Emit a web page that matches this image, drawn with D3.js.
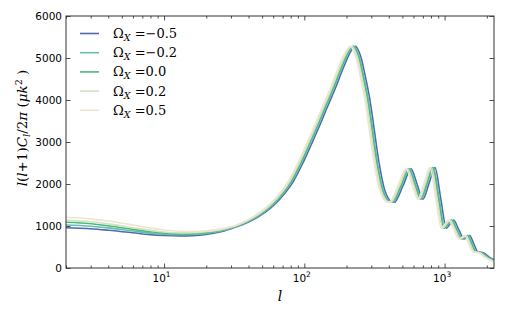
<!DOCTYPE html>
<html><head><meta charset="utf-8">
<script src="https://cdn.jsdelivr.net/npm/d3@7"></script>
<style>body{margin:0;background:#fff}svg{display:block}</style>
</head><body><svg id="c" width="506" height="316"></svg>
<script>
// ---- data ----
const omegaLabels = ["\u22120.5", "\u22120.2", "0.0", "0.2", "0.5"];
const seriesColors = ["#5069b0", "#66c0b0", "#4cb97c", "#cfe3bf", "#efe4cf"];

const lowEll = [2, 3, 4, 6, 8, 10, 13, 16, 20, 25, 30];
const lowDlM05 = [960, 935, 900, 840, 795, 775, 765, 772, 800, 855, 935];
const lowDlM02 = [1024, 995, 955, 880, 830, 802, 790, 797, 825, 876, 947];
const lowDl00  = [1088, 1055, 1005, 920, 862, 830, 812, 818, 845, 893, 957];
const lowDlP02 = [1135, 1100, 1050, 960, 895, 858, 836, 838, 862, 908, 968];
const lowDlP05 = [1207, 1170, 1120, 1025, 950, 905, 875, 867, 883, 925, 982];

const highDl = [1036, 1124, 1321, 1540, 1786, 2060, 2476, 2952, 3381, 3833,
  4310, 4726, 5095, 5226, 5279, 5155, 5000, 4619, 4048, 3452,
  2833, 2429, 2131, 1869, 1667, 1583, 1564, 1960, 2360, 2000,
  1640, 2015, 2390, 1670, 950, 1045, 1140, 915, 690, 730,
  775, 575, 380, 370, 260, 170, 120];

const highEllM05 = [36.5, 41.7, 52.1, 62.5, 72.9, 83.4, 96.9, 112.5, 128.2, 145.9,
  167.8, 187.6, 209.4, 220.9, 231.3, 244.9, 254.2, 269.9, 291.8, 310.5,
  329.3, 343.9, 357.4, 373.0, 394.9, 413.7, 437.6, 505.4, 576.2, 635.6,
  701.3, 774.2, 854.4, 936.8, 1029.5, 1091, 1158.7, 1261.9, 1376.5, 1439,
  1506.7, 1614.1, 1732.8, 1865.2, 2084, 2344.5, 2552.9];
const highEllM02 = [35.6, 40.7, 50.9, 61, 71.2, 81.4, 94.6, 109.8, 125.1, 142.4,
  163.7, 183.1, 204.4, 215.6, 225.8, 239, 248.1, 263.4, 284.8, 303.1,
  321.4, 335.6, 348.8, 364.1, 385.4, 403.7, 427.1, 493.2, 562.4, 620.4,
  684.4, 755.6, 833.9, 914.3, 1004.8, 1064.8, 1130.9, 1231.6, 1343.5, 1404.5,
  1470.6, 1575.3, 1691.3, 1820.4, 2034, 2288.3, 2491.7];
const highEll00 = [35, 40, 50, 60, 70, 80, 93, 108, 123, 140,
  161, 180, 201, 212, 222, 235, 244, 259, 280, 298,
  316, 330, 343, 358, 379, 397, 420, 485, 553, 610,
  673, 743, 820, 899, 988, 1047, 1112, 1211, 1321, 1381,
  1446, 1549, 1663, 1790, 2000, 2250, 2450];
const highEllP02 = [34.4, 39.3, 49.2, 59, 68.8, 78.6, 91.4, 106.2, 120.9, 137.6,
  158.3, 176.9, 197.6, 208.4, 218.2, 231, 239.9, 254.6, 275.2, 292.9,
  310.6, 324.4, 337.2, 351.9, 372.6, 390.3, 412.9, 476.8, 543.6, 599.6,
  661.6, 730.4, 806.1, 883.7, 971.2, 1029.2, 1093.1, 1190.4, 1298.5, 1357.5,
  1421.4, 1522.7, 1634.7, 1759.6, 1966, 2211.8, 2408.4];
const highEllP05 = [33.6, 38.4, 48, 57.6, 67.2, 76.8, 89.3, 103.7, 118.1, 134.4,
  154.6, 172.8, 193, 203.5, 213.1, 225.6, 234.2, 248.6, 268.8, 286.1,
  303.4, 316.8, 329.3, 343.7, 363.8, 381.1, 403.2, 465.6, 530.9, 585.6,
  646.1, 713.3, 787.2, 863, 948.5, 1005.1, 1067.5, 1162.6, 1268.2, 1325.8,
  1388.2, 1487, 1596.5, 1718.4, 1920, 2160, 2352];

const yTicks = [0, 1000, 2000, 3000, 4000, 5000, 6000];
const xMajor = [10, 100, 1000];
const xMajorExp = ["1", "2", "3"];

// ---- build ----
const lowSets = [lowDlM05, lowDlM02, lowDl00, lowDlP02, lowDlP05];
const highEllSets = [highEllM05, highEllM02, highEll00, highEllP02, highEllP05];
const series = lowSets.map((low, i) => {
  const pts = lowEll.map((l, j) => [l, low[j]]);
  highEllSets[i].forEach((l, j) => pts.push([l, highDl[j]]));
  return {label: omegaLabels[i], color: seriesColors[i], pts};
});

const L = 66, R = 494, T = 16, B = 268;
const x = d3.scaleLog().domain([2, 2250]).range([L, R]);
const y = d3.scaleLinear().domain([0, 6000]).range([B, T]);
const svg = d3.select("#c");

svg.append("defs").append("clipPath").attr("id", "clip")
  .append("rect").attr("x", L).attr("y", T).attr("width", R - L).attr("height", B - T);

const line = d3.line().x(d => x(d[0])).y(d => y(d[1])).curve(d3.curveMonotoneX);
const g = svg.append("g").attr("clip-path", "url(#clip)");
series.forEach(s => {
  g.append("path").attr("d", line(s.pts)).attr("fill", "none")
    .attr("stroke", s.color).attr("stroke-width", 1.6);
});

// axes
const minor = [];
[1, 10, 100, 1000].forEach(d => { for (let k = 2; k <= 9; k++) { const v = d * k; if (v >= 2 && v <= 2250) minor.push(v); } });
const axB = d3.axisBottom(x).tickValues(xMajor).tickSizeInner(-4.5).tickSizeOuter(0).tickFormat("");
const axT = d3.axisTop(x).tickValues(xMajor).tickSizeInner(-4.5).tickSizeOuter(0).tickFormat("");
const axBm = d3.axisBottom(x).tickValues(minor).tickSizeInner(-2.5).tickSizeOuter(0).tickFormat("");
const axTm = d3.axisTop(x).tickValues(minor).tickSizeInner(-2.5).tickSizeOuter(0).tickFormat("");
const axL = d3.axisLeft(y).tickValues(yTicks).tickSizeInner(-4.5).tickSizeOuter(0).tickFormat("");
const axR = d3.axisRight(y).tickValues(yTicks).tickSizeInner(-4.5).tickSizeOuter(0).tickFormat("");
[[axB, `translate(0,${B})`], [axBm, `translate(0,${B})`], [axT, `translate(0,${T})`], [axTm, `translate(0,${T})`],
 [axL, `translate(${L},0)`], [axR, `translate(${R},0)`]].forEach(([a, t]) => {
  const gg = svg.append("g").attr("transform", t).call(a);
  gg.select(".domain").remove();
  gg.selectAll("line").attr("stroke", "#222").attr("stroke-width", 0.8);
});
svg.append("rect").attr("x", L).attr("y", T).attr("width", R - L).attr("height", B - T)
  .attr("fill", "none").attr("stroke", "#333").attr("stroke-width", 1);

// tick labels
const tf = "'DejaVu Sans', sans-serif";
svg.append("g").selectAll("text").data(yTicks).join("text")
  .attr("x", L - 4).attr("y", d => y(d)).attr("dy", "0.35em").attr("text-anchor", "end")
  .attr("font-family", tf).attr("font-size", 10.5).attr("fill", "#000").text(d => d);
xMajor.forEach((v, i) => {
  const t = svg.append("text").attr("x", x(v) - 2.5).attr("y", 282).attr("text-anchor", "middle")
    .attr("font-family", tf).attr("font-size", 10.5).attr("fill", "#000");
  t.append("tspan").text("10");
  t.append("tspan").attr("dy", -5).attr("font-size", 7.5).text(xMajorExp[i]);
});

// axis labels
const sf = "'DejaVu Serif', serif";
svg.append("text").attr("x", (L + R) / 2).attr("y", 301).attr("text-anchor", "middle")
  .attr("font-family", sf).attr("font-style", "italic").attr("font-size", 14).text("l");
const yl = svg.append("text").attr("transform", "translate(27,128) rotate(-90)").attr("text-anchor", "middle")
  .attr("font-family", sf).attr("font-size", 13.5);
[["l", 1], ["(", 0], ["l", 1], ["+1)", 0], ["C", 1]].forEach(([s, it]) => yl.append("tspan").attr("font-style", it ? "italic" : "normal").text(s));
yl.append("tspan").attr("font-style", "italic").attr("font-size", 9.5).attr("dy", 3).text("l");
yl.append("tspan").attr("dy", -3).text("/2");
yl.append("tspan").attr("font-style", "italic").text("\u03c0");
yl.append("tspan").text(" (");
yl.append("tspan").attr("font-style", "italic").text("\u03bck");
yl.append("tspan").attr("font-size", 9.5).attr("dy", -5).text("2");
yl.append("tspan").attr("dy", 5).text(" )");

// legend
series.forEach((s, i) => {
  const yy = 33.5 + i * 19.2;
  svg.append("line").attr("x1", 80).attr("x2", 99).attr("y1", yy).attr("y2", yy)
    .attr("stroke", s.color).attr("stroke-width", 1.6);
  const t = svg.append("text").attr("x", 113).attr("y", yy + 4.5).attr("font-family", sf).attr("font-size", 13);
  t.append("tspan").text("\u03a9");
  t.append("tspan").attr("font-style", "italic").attr("font-size", 9.5).attr("dy", 3).text("X");
  t.append("tspan").attr("dy", -3).text(" =" + s.label);
});
</script></body></html>
